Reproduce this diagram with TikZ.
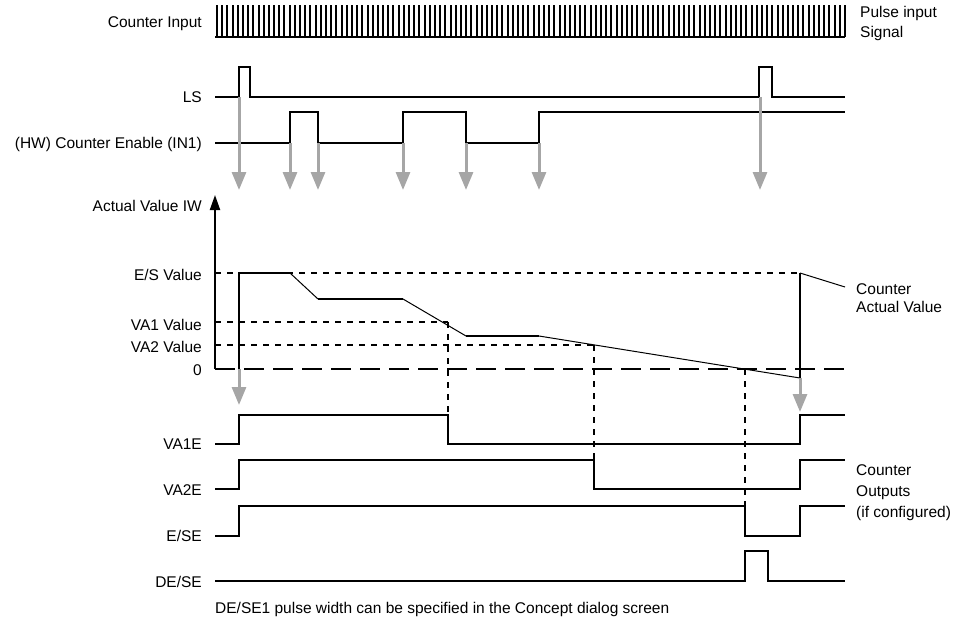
\documentclass[tikz,border=0pt]{standalone}
\usepackage{fontspec}
\setmainfont{Liberation Sans}
\usepackage{xcolor}
\definecolor{triggray}{RGB}{166,166,166}
\usepackage{tikz}
\usetikzlibrary{arrows.meta}

\begin{document}
\begin{tikzpicture}[
  x=1pt, y=-1pt,
  lbl/.style={anchor=base east, inner sep=0pt, font=\fontsize{15.5}{19}\selectfont},
  note/.style={anchor=base west, inner sep=0pt, align=left, font=\fontsize{15.5}{19}\selectfont},
  sig/.style={line width=2pt, black},
  ramp/.style={line width=1pt, black},
  lvl/.style={line width=2pt, black, dash pattern=on 6pt off 6pt},
  zeroline/.style={line width=2pt, black, dash pattern=on 20pt off 9pt},
  trig/.style={line width=3pt, triggray, -{Triangle[length=18pt,width=14pt]}},
  axis/.style={line width=2pt, black, -{Triangle[length=15pt,width=10pt]}}
]
\useasboundingbox (0,0) rectangle (958,619);

% Signal names
\node[lbl] (cin) at (202,27) {Counter Input};
\node[lbl] (ls) at (202,102) {LS};
\node[lbl] (en) at (202,148) {(HW) Counter Enable (IN1)};
\node[lbl] (iw) at (202,211) {Actual Value IW};
\node[lbl] (esv) at (202,280) {E/S Value};
\node[lbl] (va1v) at (202,330) {VA1 Value};
\node[lbl] (va2v) at (202,352) {VA2 Value};
\node[lbl] (zero) at (202,375) {0};
\node[lbl] (va1e) at (202,449) {VA1E};
\node[lbl] (va2e) at (202,495) {VA2E};
\node[lbl] (ese) at (202,541) {E/SE};
\node[lbl] (dese) at (202,587) {DE/SE};

% Side notes (base = last line)
\node[note, font=\fontsize{15.5}{19.5}\selectfont] (pin) at (860,37) {Pulse input\\Signal};
\node[note, font=\fontsize{15.5}{18}\selectfont] (cav) at (856,312) {Counter\\Actual Value};
\node[note, font=\fontsize{15.5}{21}\selectfont] (cout) at (856,517) {Counter\\Outputs\\(if configured)};
\node[anchor=base west, inner sep=0pt, font=\fontsize{15.5}{19}\selectfont] (foot) at (215,613)
  {DE/SE1 pulse width can be specified in the Concept dialog screen};

% Counter input pulses
\draw[sig] (215,37) -- (845,37);
\foreach \i in {0,...,121}
  \draw[sig] ({217+\i*5.19},37) -- ++(0,-32);

% LS and enable
\draw[sig] (215,97) -| (239,67) -| (250,97) -| (759,67) -| (772,97) -- (845,97);
\draw[sig] (215,143) -| (290,112) -| (318,143) -| (403,112) -| (466,143) -| (539,112) -- (845,112);

% Actual value axis and levels
\draw[axis] (215,369) -- (215,195);
\draw[lvl] (215,273) -- (800,273);
\draw[lvl] (215,322) -- (448,322);
\draw[lvl] (215,345) -- (594,345);
\draw[zeroline] (215,369) -- (845,369);

% Actual value curve
\draw[sig] (239,369) |- (290,273);
\draw[ramp] (290,273) -- (318,299);
\draw[sig] (318,299) -- (403,299);
\draw[ramp] (403,299) -- (466,336);
\draw[sig] (466,336) -- (539,336);
\draw[ramp] (539,336) -- (800,378);
\draw[sig] (800,378) -- (800,273);
\coordinate (cavtip) at (845,287);
\draw[ramp] (800,273) -- (cavtip);

% Guide lines
\draw[lvl] (448,322) -- (448,415);
\draw[lvl] (594,345) -- (594,460);
\draw[lvl] (745,369) -- (745,506);

% Outputs
\draw[sig] (215,444) -| (239,415) -| (448,444) -| (800,415) -- (845,415);
\draw[sig] (215,489) -| (239,460) -| (594,489) -| (800,460) -- (845,460);
\draw[sig] (215,536) -| (239,506) -| (745,536) -| (800,506) -- (845,506);
\draw[sig] (215,581) -| (745,551) -| (768,581) -- (845,581);

% Trigger arrows
\foreach \x/\y in {239/97, 290/143, 318/143, 403/143, 466/143, 539/143, 760/97}
  \draw[trig] (\x,\y) -- (\x,190);
\draw[trig] (239,369) -- (239,405);
\draw[trig] (800,378) -- (800,412);
\end{tikzpicture}
\end{document}
